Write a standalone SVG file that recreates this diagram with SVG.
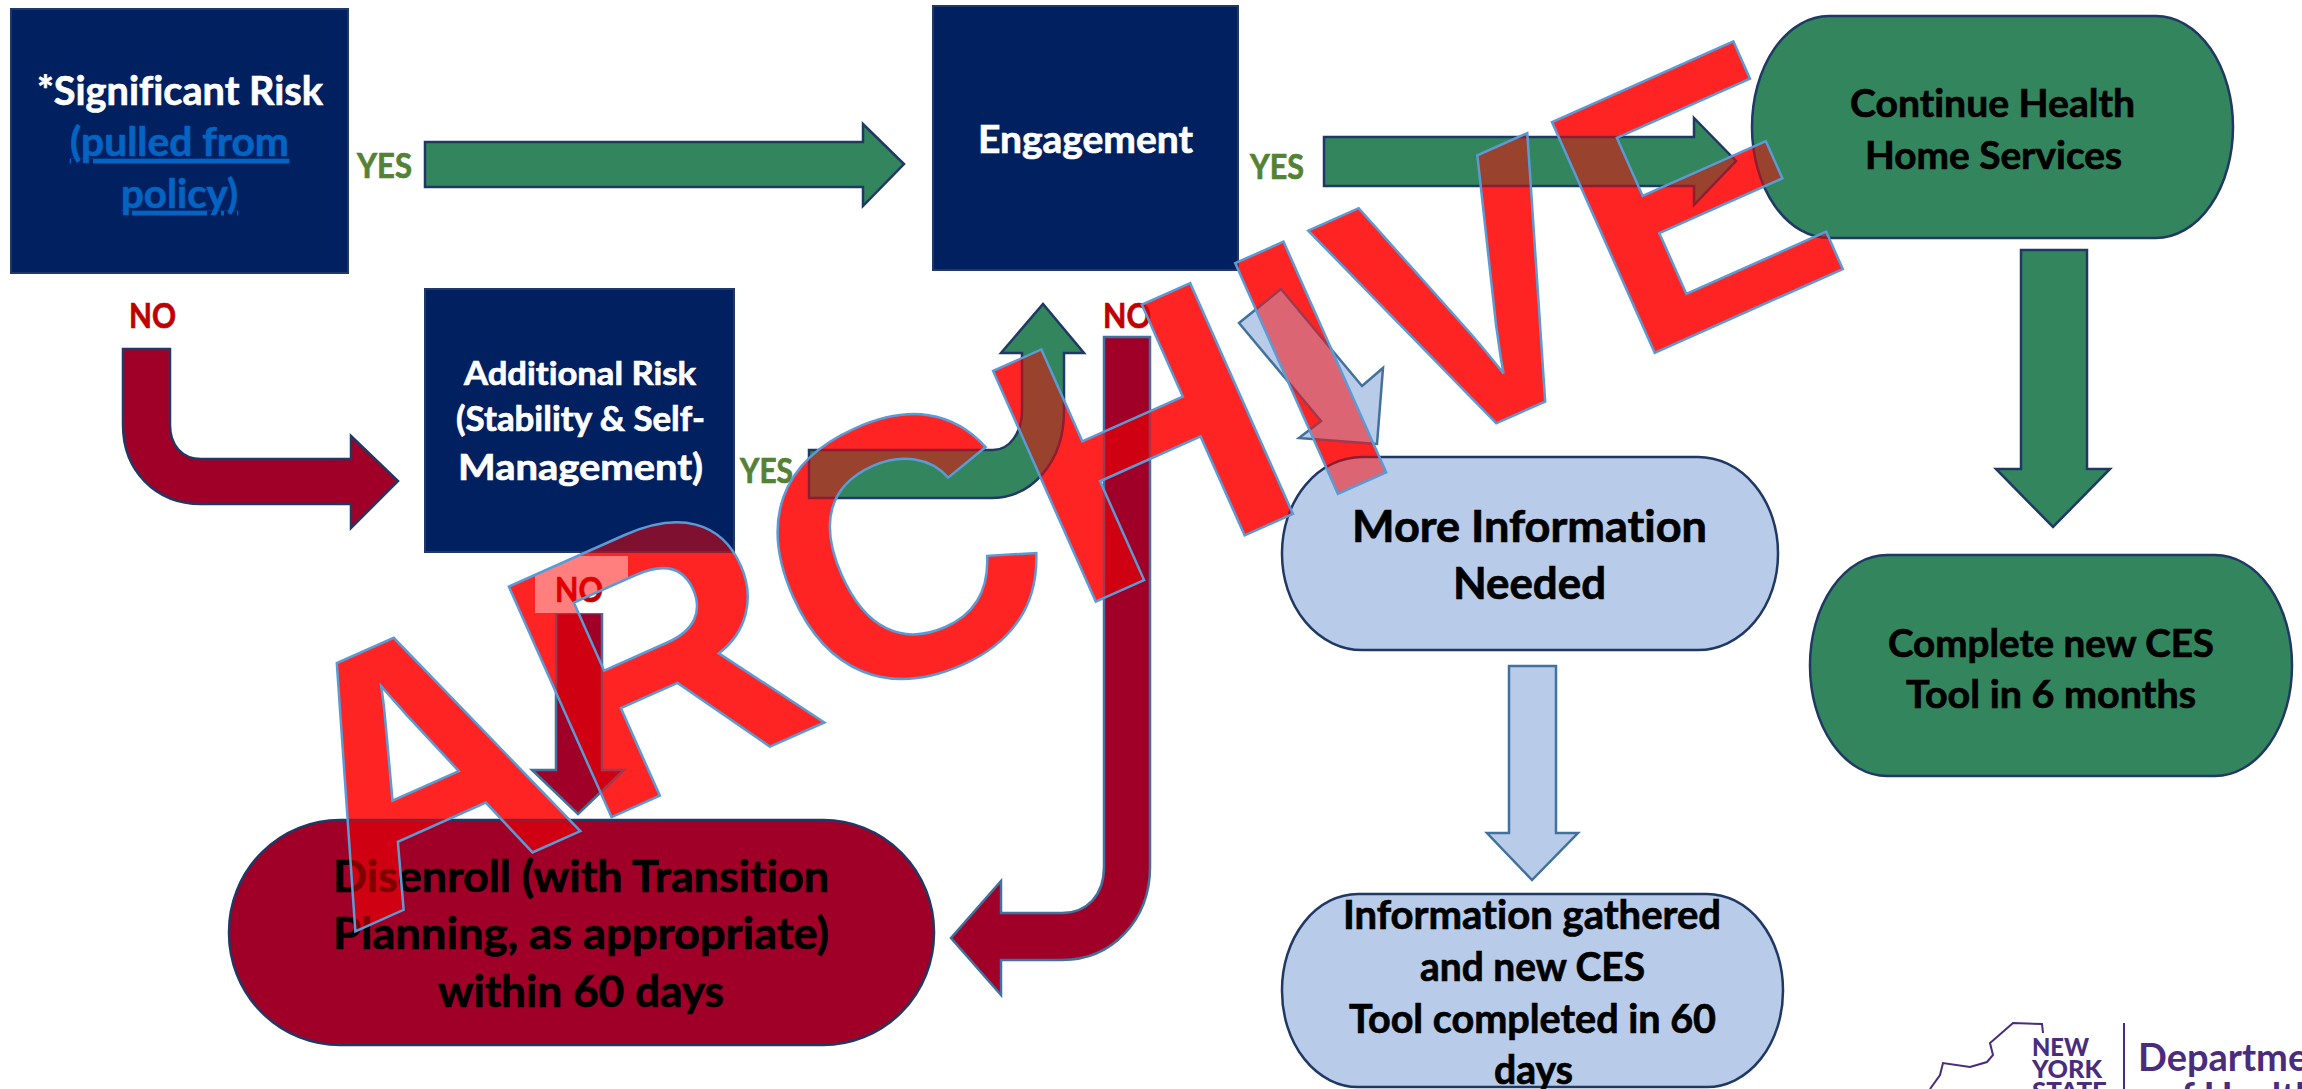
<svg xmlns="http://www.w3.org/2000/svg" width="2302" height="1089" viewBox="0 0 2302 1089">
<style>
text{font-family:"Lato","Liberation Sans",sans-serif;font-weight:700;font-variant-ligatures:none;stroke:none}
.navy{fill:#002060;stroke:#203864;stroke-width:2}
.green{fill:#32855C;stroke:#203864;stroke-width:2.5}
.maroon{fill:#A00027;stroke:#203864;stroke-width:2.5}
.blue{fill:#B8CBE9;stroke:#203864;stroke-width:2.5}
.arrowblue{fill:#B8CBE9;stroke:#41719C;stroke-width:2.5}
.w{fill:#fff;stroke:#fff;stroke-width:.7}.k{fill:#000;stroke:#000;stroke-width:.7}.yes{fill:#548235;stroke:#548235;stroke-width:.7;font-size:34px}.no{fill:#C00000;stroke:#C00000;stroke-width:.7;font-size:34px}
.lnk{fill:#0563C1;stroke:#0563C1;stroke-width:.7;text-decoration:underline}
.logo{fill:#4A2C7E}
.arch{font-size:367px;font-family:"Liberation Sans",Arial,sans-serif;font-weight:700;stroke:inherit}
</style>
<rect width="2302" height="1089" fill="#fff"/>
<use href="#archive-text" fill="#FF4848" stroke="none"/>
<g id="connectors">
<path class="green" d="M425 142H863V124L904 164L863 206V187H425Z"/>
<path class="green" d="M1324 137H1694V118L1736 161L1694 205V186H1324Z"/>
<path class="maroon" d="M123 349H170V425C170 445 182 459 201 459H351V436L398 481L351 528V504H201C155 504 123 470 123 425Z"/>
<path class="green" d="M809 450H993C1010 450 1022 432 1022 411V353H1001L1043 304L1084 353H1064V411C1064 462 1032 498 991 498H809Z"/>
<path class="maroon" d="M1104 337H1150V867C1150 920 1112 960 1062 960H1001V995L951 938L1001 881V913H1062C1087 913 1104 895 1104 867Z" style="stroke:#41719C"/>
<path class="green" d="M2021 250H2087V469H2110L2053 527L1996 469H2021Z"/>
<path class="arrowblue" d="M1239 323L1281 289L1362 386L1383 368L1377 444L1299 438L1321 421Z"/>
<path class="arrowblue" d="M1509 666H1556V833H1578L1532 880L1487 833H1509Z"/>
<path class="maroon" d="M556 613H602V770H624L578 814L532 770H556Z" style="stroke:#41719C"/>
</g>
<g id="node-significant">
<rect class="navy" x="11" y="9" width="337" height="264"/>
<text class="w" font-size="41" x="37" y="105" textLength="286" lengthAdjust="spacingAndGlyphs">*Significant Risk</text>
<text class="lnk" font-size="41" x="70" y="156" textLength="219" lengthAdjust="spacingAndGlyphs">(pulled from</text>
<text class="lnk" font-size="41" x="121" y="208" textLength="117" lengthAdjust="spacingAndGlyphs">policy)</text>
</g>
<g id="node-additional">
<rect class="navy" x="425" y="289" width="309" height="263"/>
<text class="w" font-size="33" x="464" y="385" textLength="232" lengthAdjust="spacingAndGlyphs">Additional Risk</text>
<text class="w" font-size="34" x="456" y="431" textLength="249" lengthAdjust="spacingAndGlyphs">(Stability &amp; Self-</text>
<text class="w" font-size="36" x="458" y="480" textLength="245" lengthAdjust="spacingAndGlyphs">Management)</text>
</g>
<g id="node-engagement">
<rect class="navy" x="933" y="6" width="305" height="264"/>
<text class="w" font-size="39" x="978" y="153" textLength="215" lengthAdjust="spacingAndGlyphs">Engagement</text>
</g>
<g id="node-continue">
<rect class="green" x="1752" y="16" width="481" height="222" rx="77" ry="111"/>
<text class="k" font-size="39" x="1850" y="117" textLength="285" lengthAdjust="spacingAndGlyphs">Continue Health</text>
<text class="k" font-size="39" x="1865" y="169" textLength="257" lengthAdjust="spacingAndGlyphs">Home Services</text>
</g>
<g id="node-complete">
<rect class="green" x="1810" y="555" width="482" height="221" rx="77" ry="110"/>
<text class="k" font-size="39" x="1888" y="657" textLength="326" lengthAdjust="spacingAndGlyphs">Complete new CES</text>
<text class="k" font-size="39" x="1906" y="708" textLength="290" lengthAdjust="spacingAndGlyphs">Tool in 6 months</text>
</g>
<g id="node-more-info">
<rect class="blue" x="1282" y="457" width="496" height="193" rx="80" ry="96"/>
<text class="k" font-size="44" x="1352" y="542" textLength="355" lengthAdjust="spacingAndGlyphs">More Information</text>
<text class="k" font-size="44" x="1453" y="599" textLength="153" lengthAdjust="spacingAndGlyphs">Needed</text>
</g>
<g id="node-info-gathered">
<rect class="blue" x="1282" y="894" width="501" height="193" rx="76" ry="96"/>
<text class="k" font-size="40" x="1343" y="929" textLength="378" lengthAdjust="spacingAndGlyphs">Information gathered</text>
<text class="k" font-size="40" x="1420" y="981" textLength="225" lengthAdjust="spacingAndGlyphs">and new CES</text>
<text class="k" font-size="40" x="1349" y="1033" textLength="367" lengthAdjust="spacingAndGlyphs">Tool completed in 60</text>
<text class="k" font-size="40" x="1494" y="1084" textLength="79" lengthAdjust="spacingAndGlyphs">days</text>
</g>
<g id="node-disenroll">
<rect class="maroon" x="229" y="820" width="705" height="225" rx="111" ry="112"/>
<text class="k" font-size="43" x="333" y="892" textLength="496" lengthAdjust="spacingAndGlyphs">Disenroll (with Transition</text>
<text class="k" font-size="43" x="333" y="949" textLength="496" lengthAdjust="spacingAndGlyphs">Planning, as appropriate)</text>
<text class="k" font-size="43" x="438" y="1007" textLength="286" lengthAdjust="spacingAndGlyphs">within 60 days</text>
</g>
<g id="labels">
<text class="yes" x="357" y="178" textLength="55" lengthAdjust="spacingAndGlyphs">YES</text>
<text class="yes" x="1250" y="179" textLength="54" lengthAdjust="spacingAndGlyphs">YES</text>
<text class="yes" x="740" y="483" textLength="53" lengthAdjust="spacingAndGlyphs">YES</text>
<text class="no" x="129" y="328" textLength="47" lengthAdjust="spacingAndGlyphs">NO</text>
<text class="no" x="1103" y="328" textLength="48" lengthAdjust="spacingAndGlyphs">NO</text>
<rect x="535" y="556" width="93" height="57" fill="#fff"/>
<text class="no" x="555" y="602" textLength="48" lengthAdjust="spacingAndGlyphs">NO</text>
</g>
<g id="logo">
<path d="M2043 1033L2042 1024L2013 1023L1997 1037L1990 1043L1993 1055L1987 1062L1970 1067L1943 1063L1940 1075L1930 1089" fill="none" stroke="#4A2C7E" stroke-width="2"/>
<text class="logo" font-size="25" style="font-weight:900" x="2032" y="1056" textLength="57" lengthAdjust="spacingAndGlyphs">NEW</text>
<text class="logo" font-size="25" style="font-weight:900" x="2032" y="1078" textLength="70" lengthAdjust="spacingAndGlyphs">YORK</text>
<text class="logo" font-size="25" style="font-weight:900" x="2032" y="1100" textLength="75" lengthAdjust="spacingAndGlyphs">STATE</text>
<rect class="logo" x="2123" y="1023" width="2" height="66"/>
<text class="logo" font-size="38" x="2138" y="1071">Department</text>
<text class="logo" font-size="38" x="2160" y="1110">of Health</text>
</g>
<g id="archive-watermark" fill="#FF0000" fill-opacity="0.5" stroke="#5B9BD5" stroke-width="2.5">
<text id="archive-text" class="arch" transform="translate(347 935) rotate(-24)" x="0" y="0">ARCHIVE</text>
</g>
</svg>
